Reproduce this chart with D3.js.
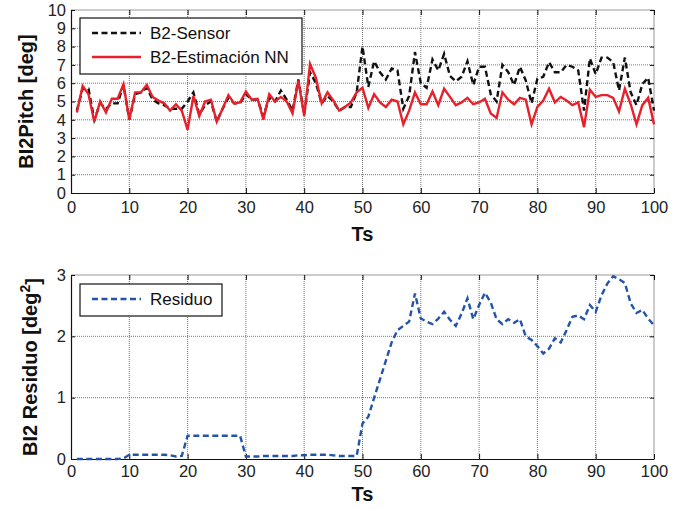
<!DOCTYPE html>
<html>
<head>
<meta charset="utf-8">
<script src="https://cdn.jsdelivr.net/npm/d3@7"></script>
<style>
  body { margin: 0; background: #fff; }
  text { font-family: "Liberation Sans", Arial, Helvetica, sans-serif; }
</style>
</head>
<body>
<div id="wrapper"></div>
<script>
// Ts index (1..100)
const ts = d3.range(1, 101)

const sensor = [
  4.5, 5.7, 5.7, 4.0, 4.9, 4.6, 4.9, 4.9, 5.9, 4.0,
  5.4, 5.5, 5.75, 5.1, 4.9, 4.8, 4.6, 4.6, 4.6, 5.0,
  5.5, 4.3, 4.8, 5.0, 3.9, 4.6, 5.2, 4.9, 4.9, 5.4,
  5.1, 5.1, 4.2, 5.2, 5.0, 5.6, 5.1, 4.5, 6.2, 4.3,
  6.6, 6.0, 4.9, 5.3, 5.0, 4.5, 4.7, 4.7, 5.5, 8.0,
  5.8, 7.2, 6.6, 6.2, 6.8, 6.7, 4.6, 5.3, 7.7, 6.0,
  5.75, 7.3, 6.7, 7.6, 6.4, 6.1, 6.35, 7.2, 5.9, 6.9,
  6.9, 5.4, 5.0, 7.0, 6.6, 5.9, 6.9, 6.15, 4.9, 6.25,
  6.35, 7.15, 6.6, 6.6, 7.0, 6.9, 6.7, 4.5, 7.35, 6.5,
  7.4, 7.4, 7.15, 5.6, 7.4, 5.5, 4.8, 5.95, 6.3, 4.5
]

const estimacion = [
  4.4, 5.85, 5.4, 3.9, 5.0, 4.4, 5.15, 5.15, 5.95, 4.0,
  5.5, 5.5, 5.9, 5.25, 5.05, 4.9, 4.5, 4.85, 4.5, 3.45,
  5.3, 4.2, 5.0, 5.1, 3.9, 4.6, 5.35, 4.9, 4.95, 5.55,
  5.1, 5.15, 4.0, 5.4, 5.0, 5.25, 5.0, 4.35, 6.15, 4.2,
  7.05, 6.3, 4.9, 5.5, 5.05, 4.5, 4.7, 4.95, 5.5, 5.75,
  4.65, 5.4, 4.95, 4.7, 5.1, 5.0, 3.75, 4.5, 5.5, 4.85,
  4.85, 5.55, 4.8, 5.7, 5.25, 4.8, 4.95, 5.2, 4.85, 4.95,
  5.15, 4.35, 4.1, 5.5, 5.1, 4.85, 5.2, 5.1, 3.75, 4.7,
  5.05, 5.7, 4.95, 5.25, 5.05, 4.8, 4.95, 3.6, 5.65, 5.25,
  5.35, 5.35, 5.2, 4.45, 5.7, 4.85, 3.75, 4.8, 5.2, 3.75
]

const residuo = [
  0, 0, 0, 0, 0, 0, 0, 0, 0.01, 0.07,
  0.07, 0.07, 0.07, 0.07, 0.07, 0.07, 0.06, 0.04, 0.05, 0.38,
  0.38, 0.38, 0.38, 0.38, 0.38, 0.38, 0.38, 0.38, 0.38, 0.04,
  0.04, 0.04, 0.05, 0.05, 0.05, 0.05, 0.05, 0.05, 0.06, 0.06,
  0.07, 0.07, 0.07, 0.07, 0.06, 0.05, 0.05, 0.05, 0.05, 0.58,
  0.69, 1.0, 1.3, 1.6, 1.9, 2.1, 2.17, 2.24, 2.7, 2.29,
  2.24, 2.2, 2.29, 2.4, 2.27, 2.17, 2.37, 2.62, 2.28, 2.51,
  2.71, 2.55, 2.28, 2.2, 2.28, 2.22, 2.28, 2.0, 1.94, 1.84,
  1.72, 1.8, 1.97, 1.9, 2.1, 2.32, 2.34, 2.28, 2.51, 2.4,
  2.67, 2.86, 2.98, 2.93, 2.87, 2.54, 2.38, 2.43, 2.29, 2.18
]

const xTicks = [0, 10, 20, 30, 40, 50, 60, 70, 80, 90, 100]
const topYTicks = [0, 1, 2, 3, 4, 5, 6, 7, 8, 9, 10]
const bottomYTicks = [0, 1, 2, 3]

const width = 684
const height = 510
const left = 71
const right = 654

const svg = d3.select('#wrapper')
  .append('svg')
  .attr('width', width)
  .attr('height', height)
  .style('background', '#fff')

const xScale = d3.scaleLinear().domain([0, 100]).range([left, right])

const drawPanel = (opts) => {
  const yScale = d3.scaleLinear().domain(opts.yDomain).range([opts.bottom, opts.top])
  const g = svg.append('g')

  // grid
  g.append('g').selectAll('line')
    .data(xTicks.slice(1, -1))
    .join('line')
    .attr('x1', d => xScale(d)).attr('x2', d => xScale(d))
    .attr('y1', opts.top).attr('y2', opts.bottom)
    .attr('stroke', '#666').attr('stroke-width', 0.9)
    .attr('stroke-dasharray', '1,1')
  g.append('g').selectAll('line')
    .data(opts.yTicks.slice(1, -1))
    .join('line')
    .attr('x1', left).attr('x2', right)
    .attr('y1', d => yScale(d)).attr('y2', d => yScale(d))
    .attr('stroke', '#666').attr('stroke-width', 0.9)
    .attr('stroke-dasharray', '1,1')

  // top / right box edges
  g.append('line')
    .attr('x1', left).attr('x2', right).attr('y1', opts.top).attr('y2', opts.top)
    .attr('stroke', '#999').attr('stroke-width', 1)
  g.append('line')
    .attr('x1', right).attr('x2', right).attr('y1', opts.top).attr('y2', opts.bottom)
    .attr('stroke', '#999').attr('stroke-width', 1)

  // axes (ticks inward)
  g.append('g')
    .attr('transform', `translate(0, ${opts.bottom})`)
    .call(d3.axisBottom(xScale).tickValues(xTicks).tickSizeInner(-5).tickSizeOuter(0).tickPadding(opts.xPad).tickFormat(d3.format('d')))
  const xTop = g.append('g')
    .attr('transform', `translate(0, ${opts.top})`)
    .call(d3.axisTop(xScale).tickValues(xTicks).tickSizeInner(-5).tickSizeOuter(0).tickFormat(''))
  xTop.select('.domain').remove()

  g.append('g')
    .attr('transform', `translate(${left}, 0)`)
    .call(d3.axisLeft(yScale).tickValues(opts.yTicks).tickSizeInner(-4).tickSizeOuter(0).tickPadding(5).tickFormat(d3.format('d')))
  const yRight = g.append('g')
    .attr('transform', `translate(${right}, 0)`)
    .call(d3.axisRight(yScale).tickValues(opts.yTicks).tickSizeInner(-4).tickSizeOuter(0).tickFormat(''))
  yRight.select('.domain').remove()

  g.selectAll('.domain').attr('stroke', '#111').attr('stroke-width', 1.2)
  g.selectAll('.tick line').attr('stroke', '#111')
  g.selectAll('.tick text')
    .style('font-size', '16.5px')
    .attr('fill', '#222')
    .style('font-family', '"Liberation Sans", Arial, sans-serif')

  // series
  opts.series.forEach(s => {
    const line = d3.line()
      .x((d, i) => xScale(ts[i]))
      .y(d => yScale(d))
    g.append('path')
      .datum(s.values)
      .attr('d', line)
      .attr('fill', 'none')
      .attr('stroke', s.color)
      .attr('stroke-width', s.width)
      .attr('stroke-dasharray', s.dash)
      .attr('stroke-linejoin', 'miter')
  })

  // x label
  g.append('text')
    .attr('x', (left + right) / 2)
    .attr('y', opts.bottom + opts.xLabelGap)
    .attr('text-anchor', 'middle')
    .style('font-size', '20px')
    .style('font-weight', 'bold')
    .attr('fill', '#111')
    .text('Ts')

  // y label
  const yl = g.append('text')
    .attr('transform', `translate(${opts.yLabelX}, ${(opts.top + opts.bottom) / 2}) rotate(-90)`)
    .attr('text-anchor', 'middle')
    .style('font-size', '20px')
    .style('font-weight', 'bold')
    .attr('fill', '#111')
  yl.append('tspan').text(opts.yLabel)
  if (opts.yLabelSup) {
    yl.append('tspan').attr('dy', '-0.5em').style('font-size', '14px').text(opts.yLabelSup)
    yl.append('tspan').attr('dy', '0.5em').text(']')
  }

  // legend
  const lg = g.append('g')
  lg.append('rect')
    .attr('x', opts.legend.x).attr('y', opts.legend.y)
    .attr('width', opts.legend.w).attr('height', opts.legend.h)
    .attr('fill', '#fff').attr('stroke', '#111').attr('stroke-width', 1.2)
  opts.series.forEach((s, i) => {
    const ly = opts.legend.y + 15 + i * 24
    lg.append('line')
      .attr('x1', opts.legend.x + 12).attr('x2', opts.legend.x + 61)
      .attr('y1', ly).attr('y2', ly)
      .attr('stroke', s.color).attr('stroke-width', s.width)
      .attr('stroke-dasharray', s.dash)
    lg.append('text')
      .attr('x', opts.legend.x + 70).attr('y', ly + 6)
      .style('font-size', '17px')
      .attr('fill', '#111')
      .text(s.name)
  })
}

drawPanel({
  top: 10, bottom: 193, yDomain: [0, 10], yTicks: topYTicks,
  xPad: 8, xLabelGap: 48,
  yLabel: 'BI2Pitch [deg]', yLabelX: 33,
  legend: { x: 80, y: 18, w: 222, h: 56 },
  series: [
    { name: 'B2-Sensor', values: sensor, color: '#111', width: 2.4, dash: '6,3.5' },
    { name: 'B2-Estimación NN', values: estimacion, color: '#e8202a', width: 2.4, dash: null }
  ]
})

drawPanel({
  top: 275, bottom: 459, yDomain: [0, 3], yTicks: bottomYTicks,
  xPad: 6, xLabelGap: 42,
  yLabel: 'BI2 Residuo [deg', yLabelSup: '2', yLabelX: 37,
  legend: { x: 80, y: 284, w: 142, h: 32 },
  series: [
    { name: 'Residuo', values: residuo, color: '#2454a8', width: 2.4, dash: '6,3.5' }
  ]
})
</script>
</body>
</html>
